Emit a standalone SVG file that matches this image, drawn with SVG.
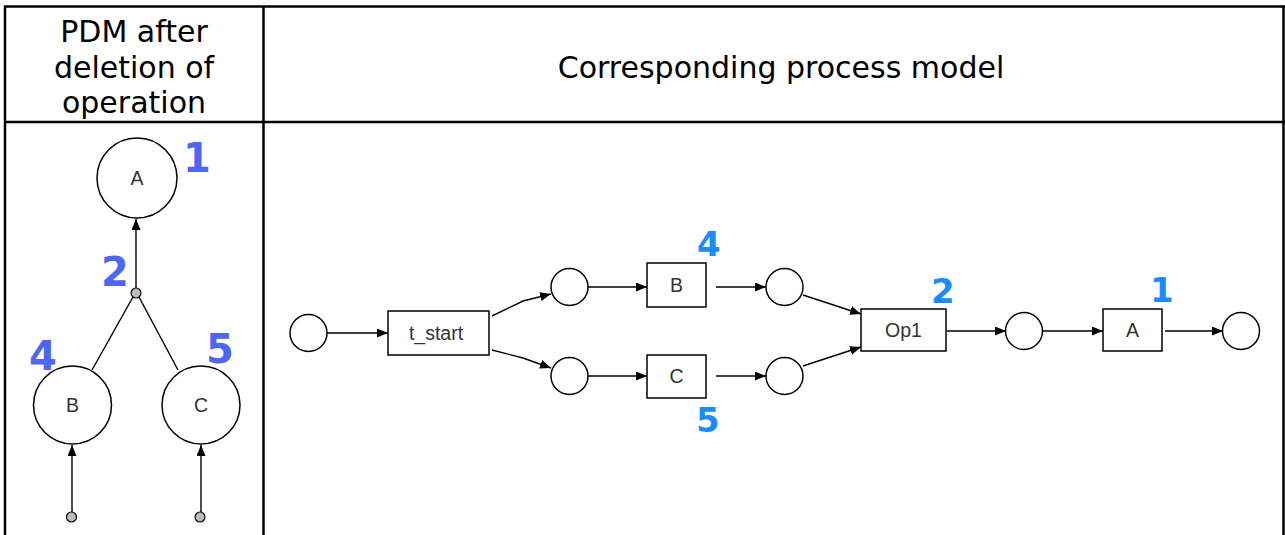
<svg xmlns="http://www.w3.org/2000/svg" width="1285" height="535" viewBox="0 0 1285 535">
<style>
.tbl{stroke:#000;stroke-width:2.5;fill:none}
.hdr{font-family:"DejaVu Sans",Verdana,sans-serif;font-size:30px;fill:#000;text-anchor:middle}
.pl{fill:#fff;stroke:#000;stroke-width:1.5}
.tr{fill:#fff;stroke:#000;stroke-width:1.5}
.lbl{font-family:"Liberation Sans",Arial,sans-serif;font-size:19.5px;fill:#333;text-anchor:middle}
.dot{fill:#bbb;stroke:#000;stroke-width:1.2}
.ed{stroke:#000;stroke-width:1.4;fill:none;marker-end:url(#ah)}
.edn{stroke:#000;stroke-width:1.4;fill:none}
.nl{font-family:"DejaVu Sans",Verdana,sans-serif;font-weight:bold;font-size:40px;fill:#4f66f2}
.nr{font-family:"DejaVu Sans",Verdana,sans-serif;font-weight:bold;font-size:34px;fill:#1a8cff}
</style>
<defs>
<marker id="ah" markerUnits="userSpaceOnUse" markerWidth="12" markerHeight="10" refX="11" refY="4.5" orient="auto">
<path d="M0,0 L11,4.5 L0,9 z" fill="#000"/>
</marker>
</defs>
<g id="table">
<line class="tbl" x1="4" y1="6.5" x2="1285" y2="6.5"/>
<line class="tbl" x1="4" y1="122" x2="1285" y2="122"/>
<line class="tbl" x1="5" y1="6" x2="5" y2="535"/>
<line class="tbl" x1="263.5" y1="6" x2="263.5" y2="535"/>
<line class="tbl" x1="1283.5" y1="6" x2="1283.5" y2="535"/>
<text class="hdr" x="134" y="42">PDM after</text>
<text class="hdr" x="134" y="78">deletion of</text>
<text class="hdr" x="134" y="113">operation</text>
<text class="hdr" x="781" y="78">Corresponding process model</text>
</g>
<g id="connectors">
<line class="ed" x1="136" y1="288" x2="136" y2="219"/>
<line class="edn" x1="133" y1="297" x2="92" y2="370"/>
<line class="edn" x1="139" y1="297" x2="178" y2="370"/>
<line class="ed" x1="72" y1="512" x2="72" y2="445"/>
<line class="ed" x1="201" y1="512" x2="201" y2="445"/>
<line class="ed" x1="327" y1="333" x2="388" y2="333"/>
<polyline class="ed" points="492,316 523,301 551,294"/>
<polyline class="ed" points="492,350 523,358 551,368"/>
<line class="ed" x1="588" y1="287" x2="647" y2="287"/>
<line class="ed" x1="588" y1="376" x2="647" y2="376"/>
<line class="ed" x1="716" y1="287" x2="766" y2="287"/>
<line class="ed" x1="716" y1="376" x2="766" y2="376"/>
<line class="ed" x1="803" y1="295" x2="861" y2="314"/>
<line class="ed" x1="803" y1="366" x2="861" y2="347"/>
<line class="ed" x1="947" y1="331" x2="1006" y2="331"/>
<line class="ed" x1="1042" y1="331" x2="1103" y2="331"/>
<line class="ed" x1="1165" y1="331" x2="1223" y2="331"/>
</g>
<g id="pdm-A"><circle class="pl" cx="137" cy="178" r="40"/><text class="lbl" x="137" y="185">A</text></g>
<g id="pdm-B"><circle class="pl" cx="72.5" cy="405" r="39"/><text class="lbl" x="72.5" y="412">B</text></g>
<g id="pdm-C"><circle class="pl" cx="201" cy="405" r="39"/><text class="lbl" x="201" y="412">C</text></g>
<g id="pdm-op"><circle class="dot" cx="136" cy="293" r="5"/></g>
<g id="pdm-inB"><circle class="dot" cx="71.5" cy="517" r="5"/></g>
<g id="pdm-inC"><circle class="dot" cx="200" cy="517" r="5"/></g>
<g id="pdm-nums">
<text class="nl" x="183" y="172">1</text>
<text class="nl" x="101" y="286">2</text>
<text class="nl" x="29" y="370">4</text>
<text class="nl" x="206" y="363">5</text>
</g>
<g id="p-start"><circle class="pl" cx="308.5" cy="333" r="18.5"/></g>
<g id="t-start"><rect class="tr" x="388" y="311" width="101" height="44"/><text class="lbl" x="436" y="340">t_start</text></g>
<g id="p-up1"><circle class="pl" cx="569.5" cy="287" r="18.5"/></g>
<g id="p-lo1"><circle class="pl" cx="569.5" cy="376" r="18.5"/></g>
<g id="t-B"><rect class="tr" x="647" y="263" width="59" height="44"/><text class="lbl" x="676.5" y="292">B</text></g>
<g id="t-C"><rect class="tr" x="647" y="355" width="59" height="43"/><text class="lbl" x="676.5" y="383">C</text></g>
<g id="p-up2"><circle class="pl" cx="784.5" cy="287" r="18.5"/></g>
<g id="p-lo2"><circle class="pl" cx="784.5" cy="376" r="18.5"/></g>
<g id="t-Op1"><rect class="tr" x="861" y="309" width="85" height="42"/><text class="lbl" x="903.5" y="337">Op1</text></g>
<g id="p-mid"><circle class="pl" cx="1024" cy="331" r="18.5"/></g>
<g id="t-A"><rect class="tr" x="1103" y="309" width="59" height="42"/><text class="lbl" x="1132.5" y="337">A</text></g>
<g id="p-end"><circle class="pl" cx="1241" cy="331" r="18.5"/></g>
<g id="pm-nums">
<text class="nr" x="697" y="256">4</text>
<text class="nr" x="696" y="432">5</text>
<text class="nr" x="931" y="303">2</text>
<text class="nr" x="1150" y="302">1</text>
</g>
</svg>
